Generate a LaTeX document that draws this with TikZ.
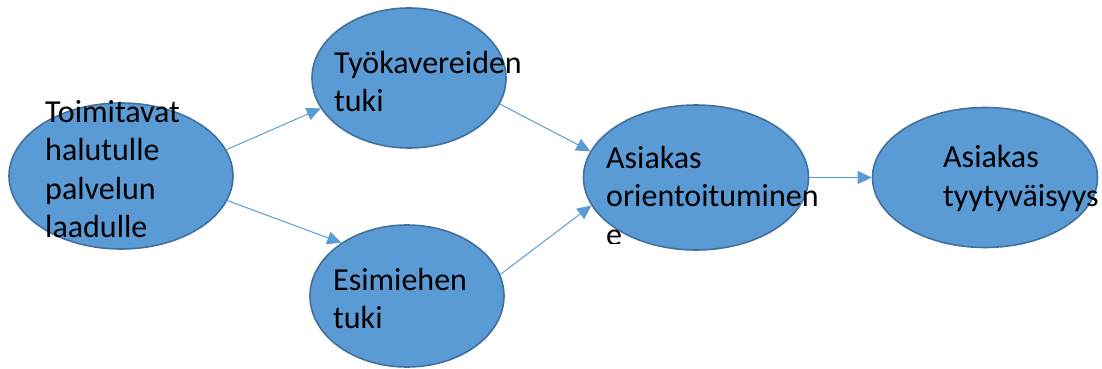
\documentclass[tikz,border=0pt]{standalone}
\usepackage{fontspec}
\setmainfont{Carlito}
\usetikzlibrary{shapes.geometric,arrows.meta}
\definecolor{bubblefill}{HTML}{5B9BD5}
\definecolor{bubbleedge}{HTML}{41719C}
\begin{document}
\begin{tikzpicture}[x=1pt,y=-1pt,
  bubble/.style={ellipse,draw=bubbleedge,fill=bubblefill,line width=1.6pt,inner sep=0pt},
  % anchored at the baseline of the last line
  bubbletext/.style={align=left,inner sep=0pt,anchor=base west,text=black,
    font=\fontsize{32}{38.5}\selectfont},
  link/.style={draw=bubblefill,line width=1pt,-{Triangle[length=14pt,width=13pt]}}]
\useasboundingbox (0,0) rectangle (1102,369);

% ellipses
\node[bubble,minimum width=224pt,minimum height=146pt] (src) at (121,176) {};
\node[bubble,minimum width=194pt,minimum height=140pt] (peer) at (409,78) {};
\node[bubble,minimum width=194pt,minimum height=142pt] (boss) at (407,296) {};
\node[bubble,minimum width=225pt,minimum height=145pt] (orient) at (696,177.5) {};
\node[bubble,minimum width=225pt,minimum height=140pt] (satisf) at (985,177.5) {};

% connectors
\draw[link] (src.14) -- (peer.199);
\draw[link] (src.-13) -- (boss.141);
\draw[link] (peer.-16.5) -- (orient.166);
\draw[link] (boss.13) -- (orient.195);
\draw[link] (orient.east) -- (satisf.west);

% texts
\node[bubbletext] (srcT) at (45,237.5) {Toimitavat\\halutulle\\palvelun\\laadulle};
\node[bubbletext] (peerT) at (334,111.5) {Työkavereiden\\tuki};
\node[bubbletext] (bossT) at (333,328.5) {Esimiehen\\tuki};
\begin{scope}
  % the text box cuts off its third line
  \clip (0,0) rectangle (1102,243.2);
  \node[bubbletext] (orientT) at (606,245) {Asiakas\\orientoituminen\\e};
\end{scope}
\node[bubbletext] (satisfT) at (943,206) {Asiakas\\tyytyväisyys};
\end{tikzpicture}
\end{document}
